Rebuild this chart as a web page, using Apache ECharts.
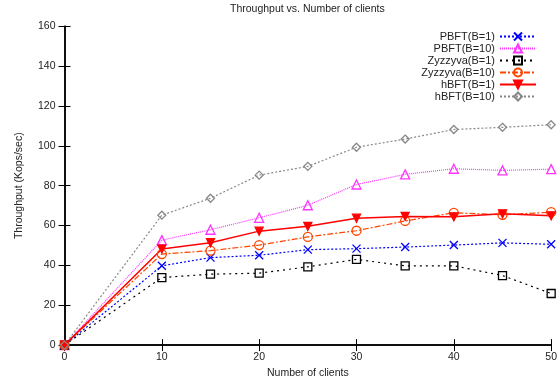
<!DOCTYPE html>
<html><head><meta charset="utf-8">
<script src="https://cdn.jsdelivr.net/npm/echarts@6/dist/echarts.min.js"></script>
<style>html,body{margin:0;padding:0;background:#fff}#c{width:560px;height:384px}</style>
</head><body><div id="c"></div>
<script>
const clients = [0, 10, 15, 20, 25, 30, 35, 40, 45, 50];
const pbft1   = [0, 39.8, 43.9, 45.1, 47.9, 48.4, 49.2, 50.2, 51.3, 50.6];
const pbft10  = [0, 52.7, 57.9, 63.9, 70.2, 80.6, 85.7, 88.5, 87.7, 88.3];
const zyz1    = [0, 33.9, 35.6, 36.1, 39.3, 43.0, 39.8, 39.8, 34.9, 25.9];
const zyz10   = [0, 45.7, 47.4, 50.2, 54.3, 57.4, 62.3, 66.4, 65.4, 66.7];
const hbft1   = [0, 48.2, 51.4, 57.2, 59.6, 63.7, 64.6, 64.4, 65.9, 64.9];
const hbft10  = [0, 65.2, 73.7, 85.3, 89.7, 99.3, 103.4, 108.2, 109.3, 110.6];
const seriesNames = ['PBFT(B=1)', 'PBFT(B=10)', 'Zyzzyva(B=1)', 'Zyzzyva(B=10)', 'hBFT(B=1)', 'hBFT(B=10)'];
const xTicks = [0, 10, 20, 30, 40, 50];
const yTicks = [0, 20, 40, 60, 80, 100, 120, 140, 160];

const pairs = v => clients.map((x, i) => [x, v[i]]);
const FONT = 'Liberation Sans';
const crossPath = 'path://M0,0L10,10M10,0L0,10';

function mk(name, vals, color, dash, width, symbol, size, filled, rot) {
  return {
    name, type: 'line', data: pairs(vals),
    symbol, symbolSize: size, symbolRotate: rot || 0, showSymbol: true,
    lineStyle: { color, width, type: dash },
    itemStyle: { color: filled ? color : 'rgba(255,255,255,0)', borderColor: color, borderWidth: 1.3 },
    emphasis: { disabled: true }, animation: false, z: 3
  };
}

const chart = echarts.init(document.getElementById('c'), null, { renderer: 'canvas' });
const axisLine = { show: true, lineStyle: { color: '#000', width: 1.5 } };
chart.setOption({
  backgroundColor: '#fff',
  animation: false,
  title: {
    text: 'Throughput vs. Number of clients', left: 230, top: 4, padding: 0,
    textStyle: { fontFamily: FONT, fontSize: 10.5, fontWeight: 'normal', color: '#222' }
  },
  legend: {
    data: seriesNames, orient: 'vertical', right: 18, top: 26, align: 'right',
    itemWidth: 36, itemHeight: 10, itemGap: 1,
    textStyle: { fontFamily: FONT, fontSize: 11, color: '#222' },
    backgroundColor: 'transparent'
  },
  grid: { left: 64.5, right: 8.5, top: 26.3, bottom: 32.3, containLabel: false },
  xAxis: [{
    type: 'value', min: xTicks[0], max: xTicks[xTicks.length - 1], interval: 10,
    name: 'Number of clients', nameLocation: 'middle', nameGap: 20,
    nameTextStyle: { fontFamily: FONT, fontSize: 10.5, color: '#222' },
    axisLine, axisTick: { show: true, inside: true, length: 6, lineStyle: { color: '#000' } },
    axisLabel: { fontFamily: FONT, fontSize: 10.5, color: '#222', margin: 7 },
    splitLine: { show: false }
  }, {
    type: 'value', position: 'top', min: 0, max: 50, interval: 10,
    axisLine, axisTick: { show: true, inside: true, length: 6, lineStyle: { color: '#000' } },
    axisLabel: { show: false }, splitLine: { show: false }
  }],
  yAxis: [{
    type: 'value', min: yTicks[0], max: yTicks[yTicks.length - 1], interval: 20,
    name: 'Throughput (Kops/sec)', nameLocation: 'middle', nameGap: 40,
    nameTextStyle: { fontFamily: FONT, fontSize: 10.5, color: '#222' },
    axisLine, axisTick: { show: true, inside: true, length: 6, lineStyle: { color: '#000' } },
    axisLabel: { fontFamily: FONT, fontSize: 10.5, color: '#222', margin: 9 },
    splitLine: { show: false }
  }, {
    type: 'value', position: 'right', min: 0, max: 160, interval: 20,
    axisLine, axisTick: { show: true, inside: true, length: 6, lineStyle: { color: '#000' } },
    axisLabel: { show: false }, splitLine: { show: false }
  }],
  series: [
    mk(seriesNames[0], pbft1, '#0000ff', [2, 2], 1.2, crossPath, 8, false),
    mk(seriesNames[1], pbft10, '#ff33ff', [1, 1], 1.2, 'triangle', 9, false),
    mk(seriesNames[2], zyz1, '#000000', [2, 4], 1.2, 'rect', 8, false),
    mk(seriesNames[3], zyz10, '#ff4500', [6, 2, 2, 2], 1.2, 'circle', 9, false),
    mk(seriesNames[4], hbft1, '#ff0000', 'solid', 1.5, 'triangle', 8, true, 180),
    mk(seriesNames[5], hbft10, '#888888', [2, 2], 1.2, 'diamond', 8, false)
  ]
});
</script></body></html>
